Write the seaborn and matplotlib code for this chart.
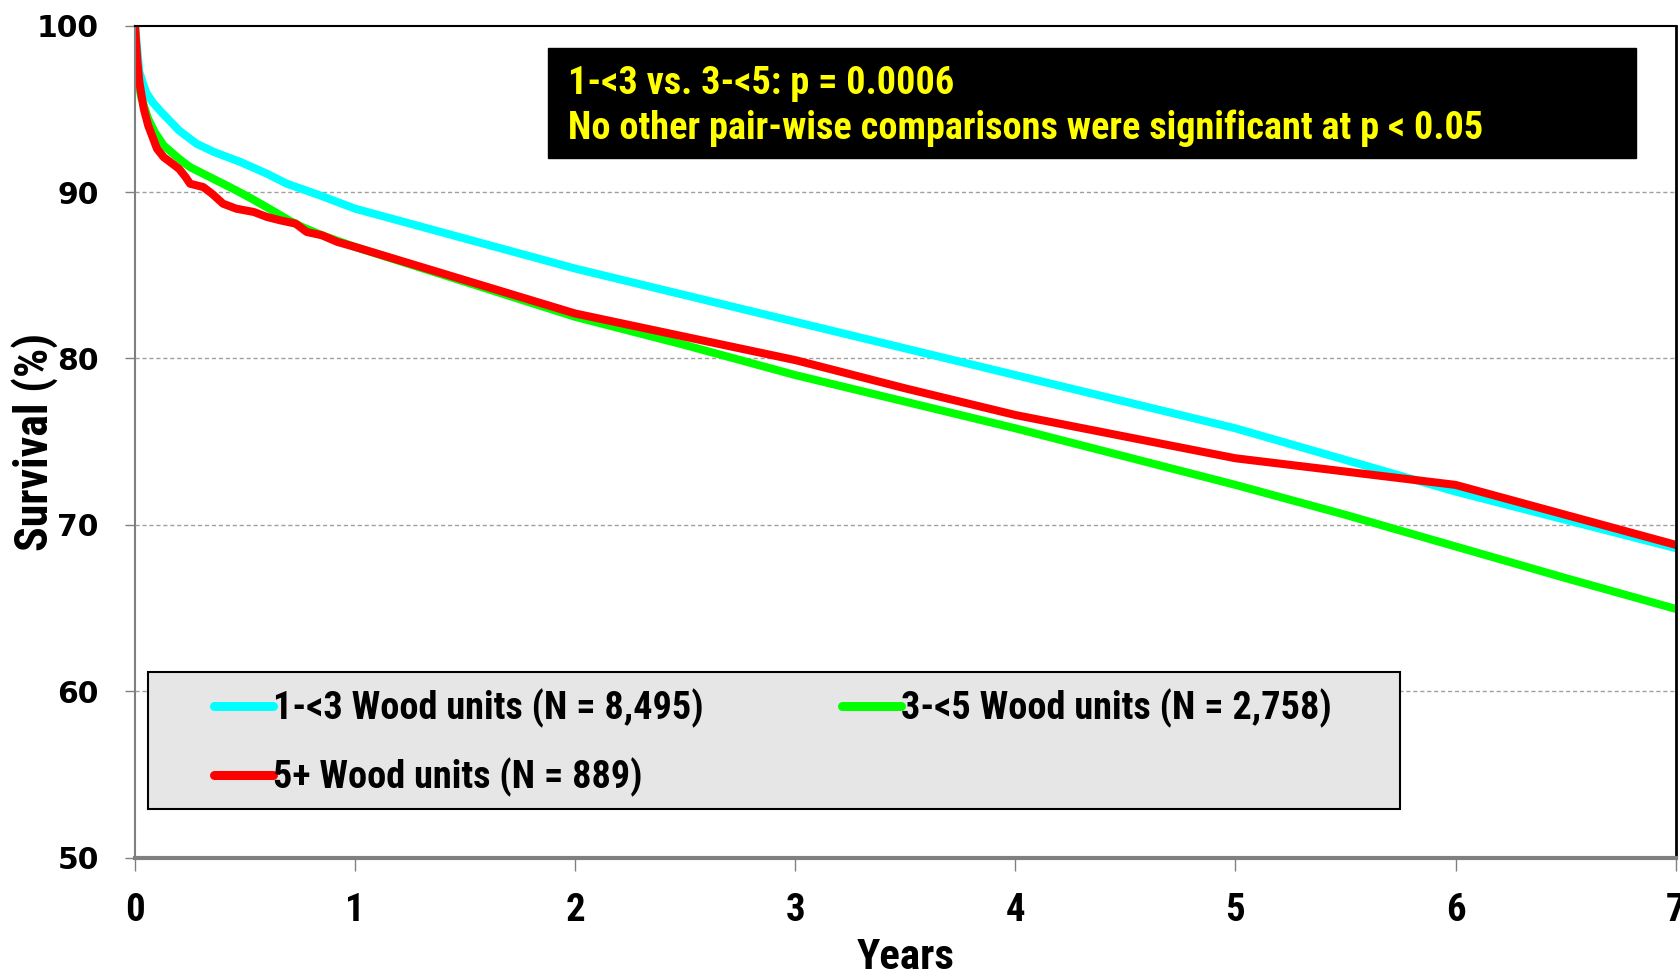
import seaborn as sns
import pandas as pd
import matplotlib.pyplot as plt
from matplotlib import font_manager
from matplotlib.patches import Rectangle

# survival curves
t_13 = [0, 0.02, 0.05, 0.08, 0.12, 0.2, 0.28, 0.36, 0.48, 0.6, 0.69, 0.84, 1.0,
        1.5, 2, 2.5, 3, 3.5, 4, 4.5, 5, 5.5, 6, 6.5, 7]
s_13 = [100, 97.2, 96.0, 95.4, 94.8, 93.7, 92.9, 92.4, 91.8, 91.1, 90.5, 89.8, 89.0,
        87.2, 85.4, 83.8, 82.2, 80.6, 79.0, 77.4, 75.8, 73.9, 72.0, 70.3, 68.6]

t_35 = [0, 0.01, 0.03, 0.06, 0.09, 0.13, 0.2, 0.25, 0.31, 0.4, 0.46, 0.53, 0.61,
        0.7, 0.76, 0.85, 1.0, 1.5, 2, 2.5, 3, 3.5, 4, 4.5, 5, 5.5, 6, 6.5, 7]
s_35 = [100, 97.0, 95.6, 94.4, 93.6, 92.8, 92.0, 91.5, 91.1, 90.5, 90.1, 89.6, 89.0,
        88.3, 87.9, 87.4, 86.7, 84.6, 82.5, 80.8, 79.0, 77.4, 75.8, 74.1, 72.4, 70.6,
        68.7, 66.8, 64.95]

t_5p = [0, 0.01, 0.02, 0.04, 0.06, 0.1, 0.13, 0.16, 0.2, 0.23, 0.25, 0.31, 0.35, 0.4,
        0.46, 0.54, 0.6, 0.66, 0.73, 0.78, 0.85, 0.92, 1.0, 1.5, 2, 2.5, 3, 3.5, 4,
        4.5, 5, 5.5, 6, 6.5, 7]
s_5p = [100, 98.0, 96.6, 95.0, 94.0, 92.6, 92.1, 91.8, 91.4, 90.9, 90.5, 90.3, 89.9,
        89.3, 89.0, 88.8, 88.5, 88.3, 88.1, 87.6, 87.4, 87.0, 86.7, 84.7, 82.7, 81.3,
        79.9, 78.2, 76.6, 75.3, 74.0, 73.2, 72.4, 70.6, 68.8]

groups = ['1-<3 Wood units (N = 8,495)', '3-<5 Wood units (N = 2,758)',
          '5+ Wood units (N = 889)']
colors = ['#00ffff', '#00ff00', '#ff0000']
note_lines = ['1-<3 vs. 3-<5: p = 0.0006',
              'No other pair-wise comparisons were significant at p < 0.05']

df = pd.concat([
    pd.DataFrame({'Years': t_13, 'Survival': s_13, 'Group': groups[0]}),
    pd.DataFrame({'Years': t_35, 'Survival': s_35, 'Group': groups[1]}),
    pd.DataFrame({'Years': t_5p, 'Survival': s_5p, 'Group': groups[2]}),
])

# pick a condensed face if one is installed, otherwise shrink the text
installed = {f.name for f in font_manager.fontManager.ttflist}
narrow_font = None
for name in ['Liberation Sans Narrow', 'DejaVu Sans Condensed', 'Roboto Condensed',
             'Open Sans Condensed', 'Noto Sans Condensed', 'Arial Narrow']:
    if name in installed:
        narrow_font = name
        break
if narrow_font:
    scale = 1.0
    narrow = [narrow_font, 'DejaVu Sans']
else:
    scale = 0.78
    narrow = ['Roboto', 'DejaVu Sans']

sns.set_style('white')
plt.rcParams['font.family'] = narrow
plt.rcParams['text.color'] = 'black'

fig = plt.figure(figsize=(16.81, 9.75), dpi=100)
ax = fig.add_axes([0.0803, 0.1204, 0.9165, 0.8533])

sns.lineplot(data=df, x='Years', y='Survival', hue='Group', palette=colors,
             estimator=None, linewidth=5.8, ax=ax)

ax.set_xlim(0, 7)
ax.set_ylim(50, 100)
ax.set_xticks(range(0, 8))
ax.set_yticks(range(50, 101, 10))
for y in [60, 70, 80, 90]:
    ax.axhline(y, color='#a0a0a0', lw=1.0, ls=(0, (3, 2)), zorder=0)

ax.spines['left'].set_color('#808080')
ax.spines['left'].set_linewidth(1.5)
ax.spines['bottom'].set_color('#808080')
ax.spines['bottom'].set_linewidth(3)
ax.spines['top'].set_color('black')
ax.spines['top'].set_linewidth(1.5)
ax.spines['right'].set_color('black')
ax.spines['right'].set_linewidth(2)

ax.tick_params(axis='y', direction='out', length=7, width=1, color='#808080',
               pad=19, left=True, labelcolor='black')
ax.tick_params(axis='x', direction='out', length=9, width=1, color='#808080',
               pad=16, bottom=True, labelcolor='black')
for lab in ax.get_yticklabels():
    lab.set_family('DejaVu Sans')
    lab.set_fontweight('bold')
    lab.set_fontsize(21.5)
for lab in ax.get_xticklabels():
    lab.set_fontweight('bold')
    lab.set_fontsize(28 * scale)

ax.set_xlabel('Years', fontsize=31 * scale, fontweight='bold', color='black')
ax.xaxis.set_label_coords(0.5, -0.095)
ax.set_ylabel('Survival (%)', fontsize=33 * scale, fontweight='bold',
              color='black')
ax.yaxis.set_label_coords(-0.050, 0.5)

# legend box
ax.add_patch(Rectangle((0.0084, 0.0586), 0.8126, 0.1646, transform=ax.transAxes,
                       facecolor='#e6e6e6', edgecolor='black', lw=1.5, zorder=4))
handles, labels = ax.get_legend_handles_labels()
order = [0, 2, 1]
leg = ax.legend([handles[i] for i in order], [labels[i] for i in order], ncol=2,
                loc='upper left', bbox_to_anchor=(0.0513, 0.203), frameon=False,
                prop={'family': narrow, 'weight': 'bold', 'size': 27.5 * scale},
                handlelength=1.55, handletextpad=0.0,
                columnspacing=3.62, labelspacing=0.76,
                borderaxespad=0, borderpad=0)
leg.set_zorder(5)
for h in leg.get_lines():
    h.set_linewidth(6.5)

# annotation box
ax.add_patch(Rectangle((1.876, 92.06), 4.944, 6.6, facecolor='black',
                       edgecolor='black', zorder=4))
ax.text(1.967, 96.55, note_lines[0], color='#ffff00', fontsize=27.5 * scale,
        fontweight='bold', va='center', ha='left', zorder=5)
ax.text(1.967, 93.85, note_lines[1], color='#ffff00', fontsize=27.5 * scale,
        fontweight='bold', va='center', ha='left', zorder=5)

fig.savefig('out.png', dpi=100)
